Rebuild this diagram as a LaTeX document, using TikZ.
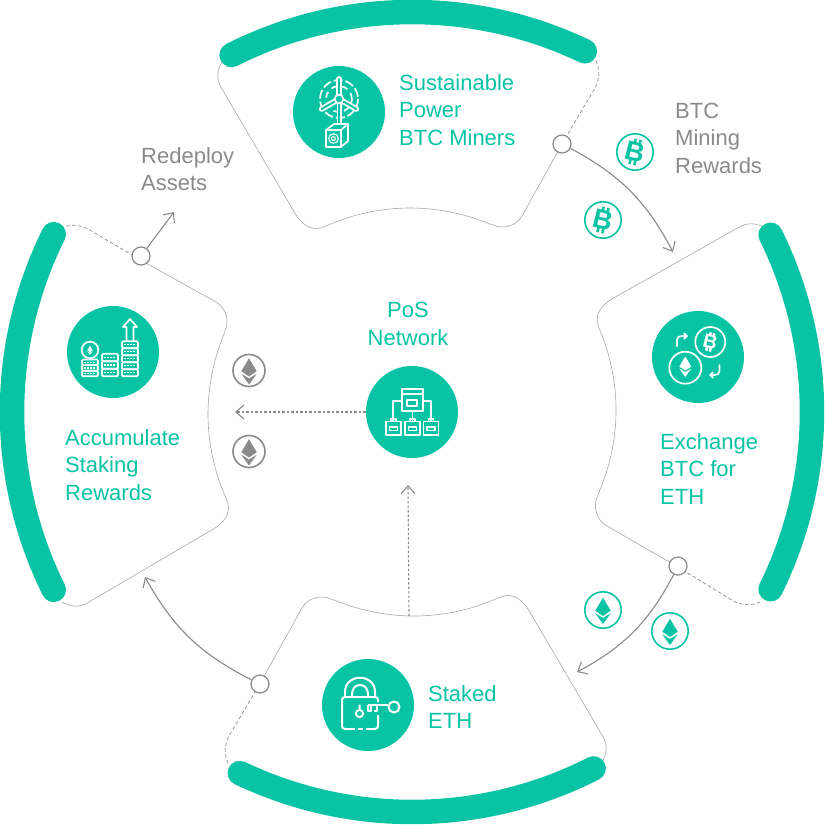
\documentclass[tikz,border=0pt]{standalone}
\usepackage{fontspec}
\setmainfont{Liberation Sans}
\usetikzlibrary{arrows.meta}
\definecolor{tealmain}{HTML}{08C4A4}
\definecolor{graymain}{HTML}{8A8A8A}
\definecolor{grayline}{HTML}{A8A8A8}
\tikzset{
  sweepband/.style = {line width=24.5pt, line cap=round, draw=tealmain},
  panelline/.style = {draw=grayline, line width=.6pt},
  paneldash/.style = {draw=graymain, line width=.7pt, dash pattern=on 3.5pt off 2.5pt},
  portcircle/.style = {circle, draw=graymain, fill=white, line width=1.2pt, minimum size=18pt, inner sep=0pt},
  icondisc/.style = {circle, fill=tealmain, minimum size=92pt, inner sep=0pt},
  tealtext/.style = {text=tealmain, font=\fontsize{22}{27.5}\selectfont, align=left, anchor=west, inner sep=0pt},
  graytext/.style = {tealtext, text=graymain},
  flowarrow/.style = {draw=graymain, line width=1.1pt, -{Straight Barb[length=8pt,width=14pt,line width=1.1pt]}},
  flowdash/.style = {flowarrow, dash pattern=on 2.5pt off 2pt},
  iconline/.style = {draw=white, line width=1.7pt, line join=round, fill=none},
  btcmark/.pic = {
    \node (-b) [rotate=-14, transform shape, text=#1, inner sep=0pt, font=\bfseries\fontsize{27}{27}\selectfont] {B};
    \begin{scope}[rotate=-14]
      \draw [#1, line width=2.6pt] (-2.5,-8) -- (-2.5,-13) (2.5,-8) -- (2.5,-13) (-2.5,8) -- (-2.5,13) (2.5,8) -- (2.5,13);
    \end{scope}
  },
  ethmark/.pic = {
    \fill [#1] (0,-12.3) -- (7.7,.7) -- (0,6) -- (-7.7,.7) -- cycle;
    \fill [#1] (-7.7,3.3) -- (0,7.9) -- (7.7,3.3) -- (0,14) -- cycle;
  },
  btccoin/.pic = {
    \draw [#1, line width=1.6pt] (0,0) circle (18.2);
    \pic (-mark) {btcmark=#1};
  },
  ethcoin/.pic = {
    \draw [#1, line width=1.6pt] (0,0) circle (18.2);
    \pic {ethmark=#1};
  },
  wedge/.pic = {
    \draw [white, line width=5.6pt, line cap=round] (0,-4) -- (0,-20);
    \draw [tealmain, line width=2pt, line cap=round] (0,-4) -- (0,-20);
  },
}
\begin{document}
\begin{tikzpicture}[x=1pt, y=-1pt]
  \useasboundingbox (0,0) rectangle (825,825);

  % the four panels are one outline turned round the middle
  \foreach \turn in {0,-91,180,90} {
    \begin{scope}[rotate around={\turn:(412,412)}]
      \draw [panelline] (222,62) .. controls (217,70) and (216,80) .. (222,89) -- (293,210)
        .. controls (299,221) and (307,229) .. (317,228.5) .. controls (322,228) and (326,226) .. (333,223)
        .. controls (358,213) and (384,208) .. (410,208) .. controls (436,208) and (462,213) .. (486,222.5)
        .. controls (493,225) and (497,227) .. (502,227) .. controls (510,227) and (517,224) .. (522,216)
        -- (562,144);
      \draw [paneldash] (562,144) -- (595,88) .. controls (600,79) and (600,68) .. (595,59);
    \end{scope}
  }
  \foreach \from/\to in {-116.8/-64.4, -26.3/26.3, 63/115.5, 153.6/206.4}
    \draw [sweepband, shift={(412,412)}] (\from:400) arc (\from:\to:400);

  % icon discs
  \node [icondisc] (minersicon) at (339,112) {};
  \node [icondisc] (exchangeicon) at (698,357) {};
  \node [icondisc] (networkicon) at (412,412) {};
  \node [icondisc] (stakedicon) at (368,705) {};
  \node [icondisc] (rewardsicon) at (113,352) {};

  % ports on the panels
  \node [portcircle] (minersport) at (562,144) {};
  \node [portcircle] (exchangeport) at (678,566) {};
  \node [portcircle] (stakedport) at (260,684) {};
  \node [portcircle] (rewardsport) at (141,256) {};

  % free ends of the arrows
  \coordinate (exchangein) at (673,252);
  \coordinate (stakedin) at (577,672);
  \coordinate (rewardsin) at (145,577);
  \coordinate (redeployout) at (174,212);
  \coordinate (rewardsfeed) at (235,412);
  \coordinate (stakedtop) at (409,616);
  \coordinate (networkfoot) at (408,485);

  \draw [flowarrow] (minersport) to [bend left=17] (exchangein);
  \draw [flowarrow] (exchangeport) to [bend left=17] (stakedin);
  \draw [flowarrow] (stakedport) to [bend left=17] (rewardsin);
  \draw [flowarrow] (rewardsport) -- (redeployout);
  \draw [flowdash] (networkicon) -- (rewardsfeed);
  \draw [flowdash] (stakedtop) -- (networkfoot);

  % labels
  \node [tealtext] (minerslabel) at (399,110) {Sustainable\\Power\\BTC Miners};
  \node [graytext] (rewardslabel) at (675,138) {BTC\\Mining\\Rewards};
  \node [graytext] (redeploylabel) at (141,169) {Redeploy\\Assets};
  \node [tealtext, align=center, anchor=center] (networklabel) at (408,324) {PoS\\Network};
  \node [tealtext] (exchangelabel) at (660,469) {Exchange\\BTC for\\ETH};
  \node [tealtext] (accumulatelabel) at (65,465) {Accumulate\\Staking\\Rewards};
  \node [tealtext] (stakedlabel) at (428,707) {Staked\\ETH};

  % coins
  \pic (btcone) at (635,152) {btccoin=tealmain};
  \pic (btctwo) at (603,220) {btccoin=tealmain};
  \pic (ethone) at (603,610) {ethcoin=tealmain};
  \pic (ethtwo) at (670,631) {ethcoin=tealmain};
  \pic [scale=.88] (ethgrayone) at (249,370.5) {ethcoin=graymain};
  \pic [scale=.88] (ethgraytwo) at (249,451.5) {ethcoin=graymain};

  % turbine and miner
  \begin{scope}[shift={(minersicon.center)}]
    \draw [iconline, dash pattern=on 9pt off 3pt] (0,-13) circle (19);
    \draw [iconline, dash pattern=on 6pt off 5pt, dash phase=2pt] (0,-13) circle (13);
    \draw [white, line width=5pt] (0,-9) -- (0,14);
    \draw [tealmain, line width=1.8pt] (0,-9) -- (0,14);
    \pic at (0,-13) {wedge};
    \pic [rotate=120] at (0,-13) {wedge};
    \pic [rotate=-120] at (0,-13) {wedge};
    \draw [iconline, fill=tealmain] (0,-13) circle (4.3);
    \draw [iconline, fill=tealmain] (-13,18) -- (-5,12) -- (9,12) -- (9,29) -- (2,35) -- (-13,35) -- cycle;
    \draw [iconline] (-13,18) -- (2,18) -- (2,35) (2,18) -- (9,12);
    \draw [iconline, line width=1.1pt] (-5.5,26.5) circle (4.8) (-5.5,26.5) circle (2);
  \end{scope}

  % coin swap
  \begin{scope}[shift={(exchangeicon.center)}]
    \draw [iconline] (12.3,-15) circle (15);
    \pic [scale=.72, shift={(12.3/.72,-15/.72)}] {btcmark=white};
    \draw [iconline] (-12.7,10.7) circle (16);
    \pic [scale=.78, shift={(-12.7/.78,9/.78)}] {ethmark=white};
    \draw [iconline, line cap=round, -{Straight Barb[length=3pt,width=6pt]}] (-21,-11) -- (-21,-17) .. controls (-21,-20) and (-19,-21) .. (-16,-21) -- (-10,-21);
    \draw [iconline, line cap=round, -{Straight Barb[length=3pt,width=6pt]}] (21.5,8) -- (21.5,14) .. controls (21.5,17) and (19.5,18) .. (16.5,18) -- (11,18);
  \end{scope}

  % network tree
  \begin{scope}[shift={(networkicon.center)}]
    \draw [iconline] (-10,-23) rectangle (11,-1) (-10,-18) -- (11,-18);
    \draw [iconline] (-5,-12) rectangle (5,-6);
    \draw [iconline] (-10,-11) -- (-19,-11) -- (-19,9.5) (11,-11) -- (19,-11) -- (19,9.5) (.5,-1) -- (.5,9.5);
    \foreach \boxx in {-18.5,.5,19} {
      \draw [iconline] (\boxx-7.5,9.5) rectangle (\boxx+7.5,23);
      \draw [iconline] (\boxx-4,15) rectangle (\boxx+4,18.5);
      \draw [iconline] (\boxx-2.5,9.5) -- (\boxx-2.5,7) -- (\boxx+2.5,7) -- (\boxx+2.5,9.5);
    }
  \end{scope}

  % lock and key
  \begin{scope}[shift={(stakedicon.center)}]
    \draw [iconline, line width=2pt] (-23,-8) -- (-23,-13) .. controls (-23,-32) and (7,-32) .. (7,-13) -- (7,-8);
    \draw [iconline, line width=2pt] (-16,-8) -- (-16,-11) .. controls (-16,-23) and (0,-23) .. (0,-11) -- (0,-8);
    \draw [iconline, line width=2pt, rounded corners=3pt] (10,-3) -- (10,-8) -- (-26,-8) -- (-26,24) -- (-13,24);
    \draw [iconline, line width=2pt, rounded corners=3pt] (-2,24) -- (10,24) -- (10,10);
    \draw [iconline, line width=2pt] (-10,24) -- (-5,24);
    \draw [iconline, line width=2pt] (-8.5,8.5) circle (3.6) (-8.5,5) -- (-8.5,-.5);
    \draw [iconline, line width=2pt] (0,0) -- (20,0) (0,0) -- (0,6) -- (3,6) -- (3,1) (6,6) -- (9,6) -- (9,1);
    \draw [iconline, line width=2pt] (26,2) circle (5.5);
  \end{scope}

  % growing stacks
  \begin{scope}[shift={(rewardsicon.center)}]
    \foreach \stackx/\rows/\rowh in {-23/3/5.6, -3/3/7.5, 17/5/7} {
      \foreach \row in {1,...,\rows} {
        \draw [iconline, rounded corners=1.2pt] (\stackx-8,24.3-\row*\rowh) rectangle (\stackx+8,24.3-\row*\rowh+\rowh);
        \draw [iconline, line width=1.2pt, dash pattern=on 1.8pt off 1.2pt] (\stackx-6,24.3-\row*\rowh+\rowh/2) -- (\stackx+6,24.3-\row*\rowh+\rowh/2);
      }
    }
    \draw [iconline] (-23,-2) circle (8.3);
    \pic [scale=.35, shift={(-23/.35,-2/.35)}] {ethmark=white};
    \draw [iconline] (13.5,-11) -- (13.5,-25) -- (10,-25) -- (17,-33) -- (24,-25) -- (20.5,-25) -- (20.5,-11);
  \end{scope}
\end{tikzpicture}
\end{document}
